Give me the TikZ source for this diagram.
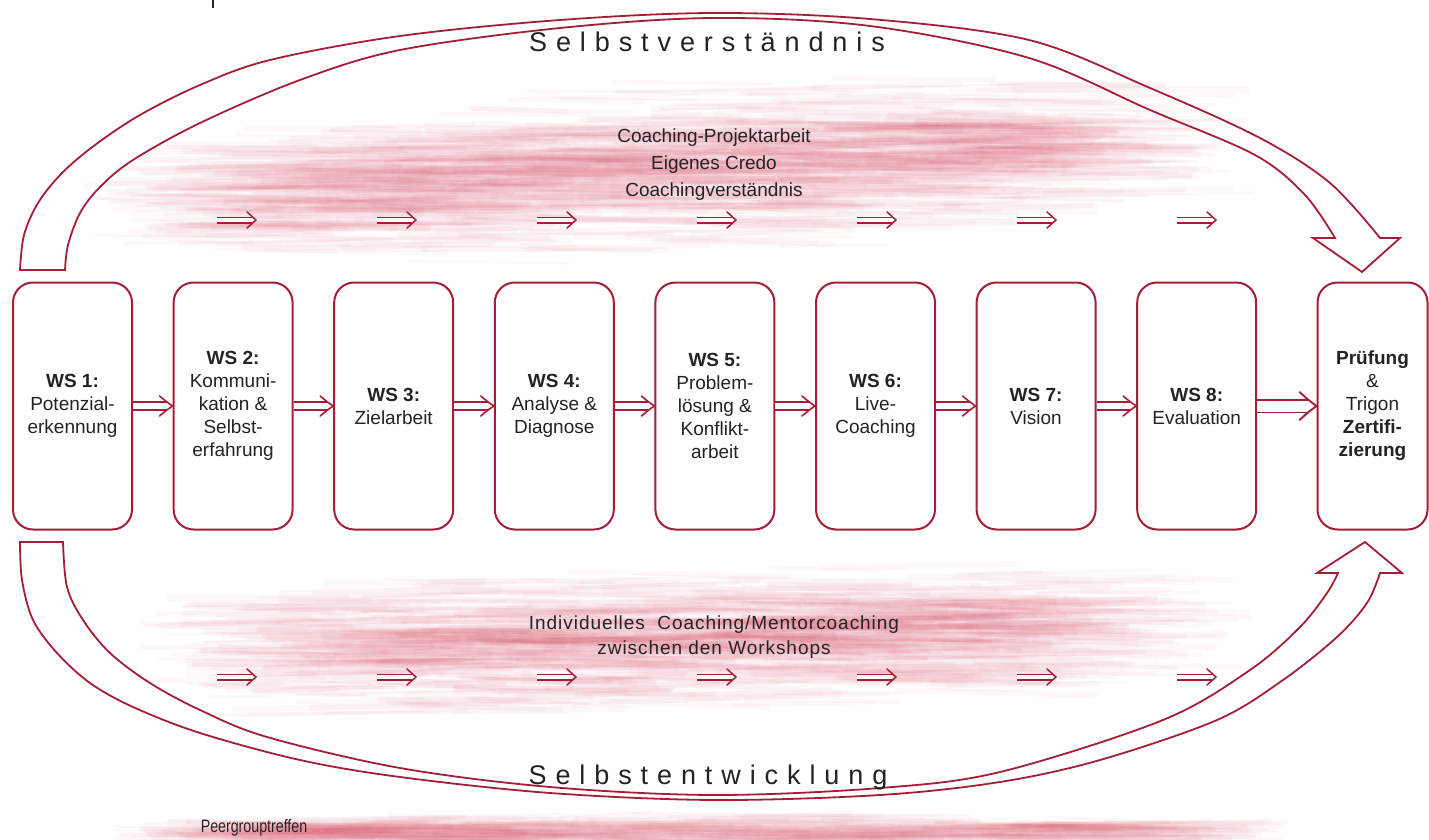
\documentclass[tikz,border=0pt]{standalone}
\usepackage{fontspec}
\setmainfont{Liberation Sans}
\usetikzlibrary{arrows.meta}
\definecolor{wred}{RGB}{165,30,55}
\definecolor{brushcol}{RGB}{225,80,105}
\definecolor{txt}{RGB}{35,35,35}
\newcommand\mybrush[8]{%
 \foreach \i in {1,...,#6}{%
  \pgfmathsetmacro\bru{rand}%
  \pgfmathsetmacro\brv{(rand+rand)/2}%
  \pgfmathsetmacro\brx{#1+#3*\bru}%
  \pgfmathsetmacro\bry{#2+#5*(\brx-#1)+#4*\brv*(1-0.3*\bru*\bru)}%
  \pgfmathsetmacro\brl{#7*(0.35+0.65*rnd)}%
  \pgfmathsetmacro\brw{1.5+5*rnd}%
  \pgfmathsetmacro\brd{3*rand}%
  \draw[brushcol, line width=\brw pt, opacity=#8, line cap=round]
    (\brx-\brl/2,\bry-\brd) -- (\brx+\brl/2,\bry+\brd);
 }}
% double arrow: from, to, inner gap, line width, head length, head half-width, shaft shortening
\newcommand\dblarrow[7]{%
 \draw[wred, line width=#4, double=white, double distance=#3, shorten >=#7] (#1) -- (#2);
 \draw[wred, line width=#4, line join=round, line cap=round]
   ([xshift=-#5,yshift=#6]#2) .. controls ([xshift=-0.45*#5,yshift=0.4*#6]#2) .. (#2)
   .. controls ([xshift=-0.45*#5,yshift=-0.4*#6]#2) .. ([xshift=-#5,yshift=-#6]#2);
}
\begin{document}
\begin{tikzpicture}[x=1pt,y=-1pt,
  wsbox/.style={draw=wred, line width=2pt, rounded corners=20pt,
    minimum width=119pt, minimum height=247pt, align=center,
    font=\fontsize{19}{23}\selectfont, text=txt, inner sep=2pt},
  bigarrow/.style={draw=wred, line width=1.8pt, line join=miter},
  title/.style={font=\fontsize{27}{30}\selectfont\addfontfeatures{LetterSpace=33}, text=txt, inner sep=0pt},
  brushtext/.style={font=\fontsize{19}{27}\selectfont, text=txt, align=center, inner sep=0pt}
]
\useasboundingbox (0,0) rectangle (1429,840);
\fill[white] (0,0) rectangle (1429,840);
\pgfmathsetseed{4242}
% brush strokes
\mybrush{665}{170}{470}{90}{-0.06}{900}{240}{0.04}
\mybrush{700}{160}{360}{50}{-0.06}{450}{200}{0.04}
\mybrush{690}{640}{450}{80}{-0.03}{800}{230}{0.04}
\mybrush{700}{635}{340}{45}{-0.03}{400}{200}{0.04}
\mybrush{690}{834}{480}{22}{0}{450}{280}{0.045}

% small mark at top
\draw[txt, line width=1.5pt] (213,0) -- (213,8);

% top arrow
\draw[bigarrow] plot[smooth, tension=0.55] coordinates {(20,270) (24,235) (38,203) (62,173) (95,145) (140,115) (200,85) (270,60) (400,36) (560,20) (714,13) (870,19) (1029,40) (1150,88) (1260,138) (1330,183) (1380,238)}
 -- (1400,238) -- (1362,272) -- (1313,238)
 -- plot[smooth, tension=0.55] coordinates {(1335,238) (1305,195) (1255,155) (1150,110) (1029,58) (870,26) (714,18) (560,28) (400,50) (300,80) (200,123) (133,160) (100,187) (80,213) (68,245) (65,270)} -- cycle;

% bottom arrow
\draw[bigarrow] plot[smooth, tension=0.55] coordinates {(20,542) (22,580) (33,620) (57,653) (90,683) (133,707) (200,733) (300,760) (400,777) (550,793) (714,800) (880,795) (1000,782) (1100,760) (1217,720) (1283,680) (1337,637) (1367,603) (1380,573)}
 -- (1402,573) -- (1365,542) -- (1317,573)
 -- plot[smooth, tension=0.55] coordinates {(1338,573) (1327,593) (1300,627) (1250,670) (1163,720) (1000,772) (880,788) (714,795) (550,787) (400,768) (267,737) (200,710) (150,683) (110,653) (83,620) (67,587) (63,542)} -- cycle;

% titles
\node[title, anchor=base] (t1) at (707,52) {Selbstverständnis};
\node[title, anchor=base] (t2) at (708,784) {Selbstentwicklung};

% brush texts
\node[brushtext] (bt1) at (714,165) {Coaching-Projektarbeit\\Eigenes Credo\\Coachingverständnis};
\node[brushtext, font=\fontsize{19}{25}\selectfont\addfontfeatures{LetterSpace=5}] (bt2) at (714,637) {Individuelles\ \ Coaching/Mentorcoaching\\zwischen den Workshops};
\node[text=txt, font=\fontsize{18}{20}\selectfont, inner sep=0pt] (pg) at (254,828) {\scalebox{0.79}[1]{Peergrouptreffen}};

% small arrows
\foreach \k in {0,...,6}{
  \coordinate (ts\k) at ({217+160*\k},220);
  \coordinate (te\k) at ({256+160*\k},220);
  \dblarrow{ts\k}{te\k}{4pt}{1.5pt}{9pt}{8pt}{4pt}
  \coordinate (bs\k) at ({217+160*\k},677);
  \coordinate (be\k) at ({256+160*\k},677);
  \dblarrow{bs\k}{be\k}{4pt}{1.5pt}{9pt}{8pt}{4pt}
}

% boxes
\node[wsbox] (b1) at (72.5,406) {\textbf{WS 1:}\\Potenzial-\\erkennung};
\node[wsbox] (b2) at (233.1,406) {\textbf{WS 2:}\\Kommuni-\\kation \&\\Selbst-\\erfahrung};
\node[wsbox] (b3) at (393.7,406) {\textbf{WS 3:}\\Zielarbeit};
\node[wsbox] (b4) at (554.3,406) {\textbf{WS 4:}\\Analyse \&\\Diagnose};
\node[wsbox] (b5) at (714.9,406) {\textbf{WS 5:}\\Problem-\\lösung \&\\Konflikt-\\arbeit};
\node[wsbox] (b6) at (875.5,406) {\textbf{WS 6:}\\Live-\\Coaching};
\node[wsbox] (b7) at (1036.1,406) {\textbf{WS 7:}\\Vision};
\node[wsbox] (b8) at (1196.7,406) {\textbf{WS 8:}\\Evaluation};
\node[wsbox, minimum width=110pt] (fin) at (1372.5,406) {\textbf{Prüfung}\\\&\\Trigon\\\textbf{Zertifi-}\\\textbf{zierung}};

% connectors
\dblarrow{b1.east}{b2.west}{6.5pt}{1.6pt}{13pt}{10pt}{6pt}
\dblarrow{b2.east}{b3.west}{6.5pt}{1.6pt}{13pt}{10pt}{6pt}
\dblarrow{b3.east}{b4.west}{6.5pt}{1.6pt}{13pt}{10pt}{6pt}
\dblarrow{b4.east}{b5.west}{6.5pt}{1.6pt}{13pt}{10pt}{6pt}
\dblarrow{b5.east}{b6.west}{6.5pt}{1.6pt}{13pt}{10pt}{6pt}
\dblarrow{b6.east}{b7.west}{6.5pt}{1.6pt}{13pt}{10pt}{6pt}
\dblarrow{b7.east}{b8.west}{6.5pt}{1.6pt}{13pt}{10pt}{6pt}
\dblarrow{b8.east}{fin.west}{11pt}{1.9pt}{17pt}{14pt}{8pt}
\end{tikzpicture}
\end{document}
